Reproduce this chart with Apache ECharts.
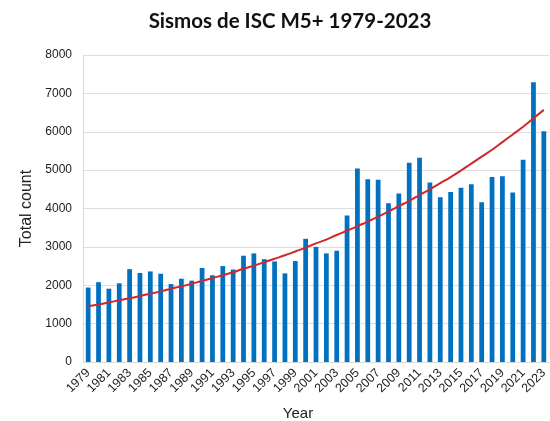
<!DOCTYPE html>
<html>
<head>
<meta charset="utf-8">
<script src="https://cdn.jsdelivr.net/npm/echarts@6/dist/echarts.min.js"></script>
<style>
  html, body { margin: 0; padding: 0; background: #fff; }
  #chart { width: 550px; height: 421px; }
</style>
</head>
<body>
<div id="chart"></div>
<script>
// Years on the x axis
const years = [];
for (let y = 1979; y <= 2023; y++) years.push(String(y));

// Yearly totals of M5+ events
const counts = [
    1940, 2080, 1910, 2050, 2420, 2320, 2360, 2300, 2030, 2170,
    2120, 2450, 2260, 2500, 2410, 2770, 2830, 2680, 2620, 2310,
    2630, 3210, 3000, 2830, 2900, 3820, 5040, 4760, 4750, 4140,
    4390, 5190, 5320, 4680, 4290, 4430, 4540, 4630, 4160, 4820,
    4840, 4420, 5270, 7290, 6010
];

// Red trend curve (at each year)
const trend = [
    1450, 1500, 1550, 1610, 1660, 1720, 1780, 1840, 1910, 1970,
    2040, 2110, 2190, 2260, 2340, 2430, 2510, 2600, 2690, 2780,
    2880, 2980, 3090, 3190, 3310, 3420, 3540, 3660, 3790, 3920,
    4060, 4200, 4350, 4500, 4660, 4820, 4990, 5170, 5350, 5530,
    5730, 5930, 6130, 6350, 6570
];

const yTicks = { min: 0, max: 8000, interval: 1000 };

const el = document.getElementById('chart');
const chart = echarts.init(el);

chart.setOption({
    animation: false,
    title: {
        text: 'Sismos de ISC M5+ 1979-2023',
        left: 285,
        textAlign: 'center',
        top: 6,
        textStyle: { fontFamily: 'Lato', fontWeight: 'bold', fontSize: 20.5, color: '#111' }
    },
    grid: { left: 83, right: 1, top: 55, bottom: 59, outerBoundsMode: 'none' },
    xAxis: {
        type: 'category',
        data: years,
        name: 'Year',
        nameLocation: 'middle',
        nameGap: 44,
        nameTextStyle: { fontFamily: 'Liberation Sans', fontSize: 15, color: '#222', padding: [0, 36, 0, 0] },
        axisLine: { lineStyle: { color: '#d9d9d9' } },
        axisTick: { show: false },
        axisLabel: {
            interval: 1,
            rotate: 45,
            margin: 9,
            fontFamily: 'Liberation Sans',
            fontSize: 12.5,
            color: '#222'
        }
    },
    yAxis: {
        type: 'value',
        min: yTicks.min,
        max: yTicks.max,
        interval: yTicks.interval,
        name: 'Total count',
        nameLocation: 'middle',
        nameGap: 47,
        nameTextStyle: { fontFamily: 'Liberation Sans', fontSize: 16, color: '#222' },
        axisLine: { show: true, lineStyle: { color: '#d9d9d9' } },
        axisLabel: {
            margin: 11,
            fontFamily: 'Liberation Sans',
            fontSize: 12,
            color: '#222',
            formatter: function (v) { return String(v); }
        },
        splitLine: { lineStyle: { color: '#dedede' } }
    },
    series: [
        {
            type: 'bar',
            data: counts,
            barWidth: '46%',
            itemStyle: { color: '#0070c0' }
        },
        {
            type: 'line',
            data: trend,
            smooth: true,
            symbol: 'none',
            lineStyle: { color: '#d0282a', width: 2 },
            z: 5
        }
    ]
});
</script>
</body>
</html>
